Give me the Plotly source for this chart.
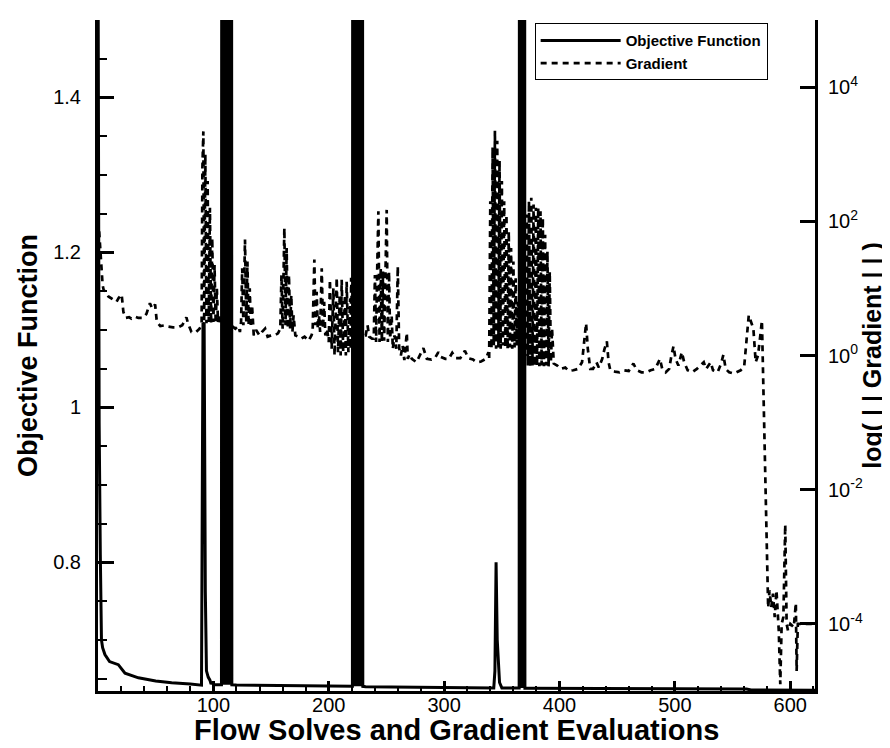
import plotly.graph_objects as go

# ---------------- data ----------------
obj_x = [0, 1, 2, 3, 4, 6, 10, 17.6, 23.4, 35, 50, 63.8, 80, 89.7,
         91, 92, 93, 94, 95.5, 97, 98, 99, 100, 103, 106,
         107, 107.5, 108, 108.5, 109, 109.5, 110, 110.5, 111, 111.5, 112, 112.5,
         113, 113.5, 114, 114.5, 115, 115.5, 116,
         120, 150, 180, 219,
         220.5, 221, 221.5, 222, 222.5, 223, 223.5, 224, 224.5, 225, 225.5, 226,
         226.5, 227, 227.5, 228, 228.5, 229, 229.5,
         232, 260, 300, 343, 344, 345, 346, 347, 348, 350, 364.5,
         365, 365.5, 366, 366.5, 367, 367.5, 368, 368.5, 369, 369.5, 370,
         372, 400, 450, 500, 562, 566, 621.4]
obj_v = [1.62, 0.98, 0.81, 0.70, 0.69, 0.681, 0.672, 0.668, 0.657, 0.651, 0.647, 0.6445, 0.643, 0.6415,
         1.109, 1.108, 0.763, 0.66, 0.652, 0.648, 0.643, 0.646, 0.642, 0.642, 0.642,
         0.642, 3.0, 0.642, 3.0, 0.642, 3.0, 0.642, 3.0, 0.642, 3.0, 0.642, 3.0,
         0.642, 3.0, 0.642, 3.0, 0.642, 3.0, 0.642,
         0.6418, 0.641, 0.6405, 0.640,
         0.640, 3.0, 0.640, 3.0, 0.640, 3.0, 0.640, 3.0, 0.640, 3.0, 0.640, 3.0,
         0.640, 3.0, 0.640, 3.0, 0.640, 3.0, 0.640,
         0.6395, 0.639, 0.6385, 0.638, 0.66, 0.80, 0.70, 0.665, 0.645, 0.638, 0.6378,
         0.6378, 3.0, 0.6378, 3.0, 0.6378, 3.0, 0.6378, 3.0, 0.6378, 3.0, 0.6377,
         0.6377, 0.6373, 0.637, 0.6368, 0.6366, 0.6352, 0.635]

grad_x = [1, 2, 3, 4, 5, 6, 9, 13, 16, 18, 20.5, 22, 24, 27, 29, 32, 35, 39, 42, 45, 47, 49.5,
          51, 54, 58, 61, 65, 69.6, 73, 76.6, 78, 81, 85, 88, 89.8,
          90.5, 91.3, 92, 93, 94, 95, 96, 97, 98, 99, 100, 101, 102, 103, 104, 105, 106,
          108, 110, 113, 116, 119, 121.6, 123,
          124, 125, 126, 127.4, 128.5, 129.5, 130.5, 131.5, 132.5, 133.5, 135,
          137, 140, 142, 144.8, 147, 150, 153, 156, 158,
          159, 160, 161.5, 162.5, 163.5, 164.5, 165.5, 166.5, 167.5, 168.5, 169.5, 171,
          173.6, 176, 179, 182.5, 185,
          186, 187.5, 188.5, 189.5, 190.5, 191.5, 192.5, 193.9, 195, 196, 197, 198.5,
          200, 201, 202.5, 204, 205, 206.9, 208, 209.5, 210.3, 211.2, 212.5, 214, 214.8,
          215.5, 217, 218.5, 219, 219.4, 220.5,
          222, 225, 228, 230, 232, 233.6, 235, 237.5,
          239, 240, 241, 242, 243, 244, 245, 246, 247, 248, 249, 250.2, 251.2, 252.2, 253.2,
          254.5, 255.5, 257, 258.5, 259.8, 261, 262.5, 264, 265.5, 267.6, 268.5, 270,
          272, 276, 279, 282, 285, 289, 292, 295, 297, 301, 304, 307, 310, 314, 318, 321,
          325, 328, 332, 336, 338.4,
          339, 340, 341, 342, 343, 344, 345, 346, 347, 348, 349, 350, 351, 352, 353, 354,
          355, 356, 357, 358, 359, 360, 361, 362, 363, 364, 365, 367, 369,
          370.5, 371.5, 372.5, 373.5, 374.5, 375.5, 376.5, 377.5, 378.5, 379.5, 380.5,
          381.5, 382.5, 383.5, 384.5, 385.5, 386.5, 387.5, 388.5, 389.5, 390.5, 391.5,
          392.5, 393.5, 395,
          398, 401, 405, 408, 412, 416, 419.5, 421.5, 423, 424.5, 425.5, 426.6, 429, 432,
          434, 437, 439, 441, 442.5, 444, 448, 452, 456, 460, 464, 467, 471, 475, 479, 483,
          487, 489, 492, 495, 497, 498.8, 500.5, 503, 506, 508, 511, 515, 519, 522, 525,
          527, 529, 531, 533, 537, 540, 542, 544, 547, 551, 554, 557, 560, 562, 564, 566,
          568, 570, 572, 574, 575.4, 580.8, 582, 583.5, 585, 586.5, 588, 590, 591.3,
          592.5, 594, 595.6, 596.8, 598, 600, 603, 604.8, 605.5, 606.5, 610, 621.4]
grad_log10 = [1.85, 1.55, 1.25, 1.05, 0.97, 0.96, 0.88, 0.83, 0.8, 0.86, 0.91, 0.65, 0.56, 0.57,
              0.55, 0.58, 0.56, 0.56, 0.62, 0.78, 0.7, 0.76,
              0.5, 0.44, 0.45, 0.43, 0.42, 0.42, 0.45, 0.57, 0.48, 0.35, 0.35, 0.4, 0.46,
              2.8, 3.34, 0.5, 3.0, 0.48, 2.6, 0.5, 2.2, 0.48, 1.75, 0.5, 1.35, 0.48, 1.0, 0.5,
              0.62, 0.45,
              0.47, 0.45, 0.46, 0.44, 0.4, 0.44, 0.35,
              0.5, 1.3, 0.45, 1.73, 0.5, 1.4, 0.45, 1.0, 0.42, 0.75, 0.3,
              0.38, 0.3, 0.35, 0.4, 0.28, 0.3, 0.3, 0.33, 0.4,
              1.2, 0.4, 1.9, 0.45, 1.6, 0.4, 1.2, 0.4, 0.9, 0.35, 0.6, 0.3,
              0.28, 0.25, 0.28, 0.22, 0.3,
              0.35, 1.43, 0.45, 0.95, 0.4, 0.6, 0.35, 1.3, 0.4, 0.8, 0.3, 0.4,
              0.2, 1.13, 0.1, 1.0, 0.0, 1.16, 0.05, 0.9, 0.0, 1.13, 0.05, 0.9, 0.0,
              1.1, 0.05, 0.85, 0.1, 1.16, 0.3,
              0.35, 0.32, 0.3, 0.3, 0.3, 0.45, 0.28, 0.25,
              0.25, 1.2, 0.2, 1.3, 2.15, 0.2, 1.3, 0.2, 1.25, 0.22, 1.3, 2.17, 0.2, 1.25, 0.25,
              0.6, 0.1, 0.3, 0.1, 1.33, 0.11, 0.0, 0.15, -0.07, 0.34, -0.05, 0.02,
              -0.05, -0.1, 0.0, 0.11, -0.05, -0.06, -0.04, 0.05, -0.02, -0.05, -0.05, 0.04,
              -0.04, -0.04, 0.07, -0.04, -0.06, -0.1, -0.09, -0.05, 0.05,
              -0.05, 2.3, 0.1, 3.1, 0.15, 3.35, 0.1, 3.2, 0.12, 2.9, 0.1, 2.6, 0.15, 2.3, 0.12,
              2.1, 0.1, 1.85, 0.12, 1.6, 0.1, 1.4, 0.12, 1.15, 0.15, 0.8, 0.2, 0.1, 0.05,
              0.0, 2.1, -0.15, 2.3, -0.16, 2.35, -0.15, 2.25, -0.16, 2.2, -0.15,
              2.2, -0.16, 2.15, -0.15, 2.05, -0.16, 1.8, -0.15, 1.55, -0.16, 1.25,
              -0.1, 0.4, -0.12,
              -0.15, -0.2, -0.18, -0.23, -0.22, -0.2, -0.1, 0.2, 0.48, 0.1, -0.05, -0.2, -0.2,
              -0.1, -0.18, -0.05, 0.1, 0.21, -0.1, -0.22, -0.24, -0.25, -0.22, -0.23, -0.12,
              -0.22, -0.25, -0.25, -0.22, -0.2, -0.05, -0.2, -0.25, -0.2, 0.0, 0.14, -0.05,
              -0.15, 0.05, -0.1, -0.22, -0.25, -0.2, -0.15, -0.1, -0.2, -0.15, -0.1, -0.22,
              -0.25, -0.12, 0.01, -0.2, -0.25, -0.27, -0.25, -0.22, -0.17, 0.2, 0.6, 0.5,
              0.4, -0.1, 0.0, 0.3, 0.52, -3.76, -3.5, -3.75, -3.55, -3.9, -3.5, -4.1, -4.9,
              -4.0, -3.9, -2.52, -4.0, -4.1, -4.0, -4.05, -3.69, -4.7, -4.0, -4.0, -4.0]

grad_vals = [10 ** v for v in grad_log10]

x_tick_vals = [100, 200, 300, 400, 500, 600]
y2_tick_vals = [1e-4, 1e-2, 1, 1e2, 1e4]
y2_tick_text = ["10<sup>-4</sup>", "10<sup>-2</sup>", "10<sup>0</sup>", "10<sup>2</sup>", "10<sup>4</sup>"]

x_title = "Flow Solves and Gradient Evaluations"

# ---------------- figure ----------------
FONT = "Liberation Sans, Arial, Helvetica, sans-serif"

fig = go.Figure()
fig.add_trace(go.Scatter(x=obj_x, y=obj_v, mode="lines", name="<b>Objective Function</b>",
                         line=dict(color="black", width=3), yaxis="y"))
fig.add_trace(go.Scatter(x=grad_x, y=grad_vals, mode="lines", name="<b>Gradient</b>",
                         line=dict(color="black", width=2.7, dash="6px,5px"), yaxis="y2"))

fig.update_layout(
    width=890, height=748,
    margin=dict(l=90, r=83, t=12, b=65),
    paper_bgcolor="white", plot_bgcolor="white",
    font=dict(family=FONT, color="black", size=20),
    showlegend=True,
    legend=dict(x=0.609, y=0.995, xanchor="left", yanchor="top",
                bgcolor="white", bordercolor="black", borderwidth=1,
                font=dict(family=FONT, size=15, color="black"),
                itemwidth=80, tracegroupgap=0),
    xaxis=dict(range=[0, 621.4], tickmode="array", tickvals=x_tick_vals,
               ticks="inside", ticklen=10, tickwidth=2.5, tickcolor="black",
               minor=dict(ticks="inside", dtick=20, tick0=0, ticklen=5, tickwidth=2, tickcolor="black"),
               showline=True, linewidth=3, linecolor="black",
               showgrid=False, zeroline=False,
               tickfont=dict(size=20), ticklabelstandoff=-6),
    yaxis=dict(range=[0.634, 1.5], dtick=0.2, tick0=0,
               ticks="inside", ticklen=16, tickwidth=3, tickcolor="black",
               minor=dict(ticks="inside", dtick=0.05, tick0=0, ticklen=9, tickwidth=2, tickcolor="black"),
               showline=True, linewidth=3, linecolor="black",
               showgrid=False, zeroline=False,
               tickfont=dict(size=20), ticklabelstandoff=10,
               title=dict(text="<b>Objective Function</b>", font=dict(size=27), standoff=8)),
    yaxis2=dict(overlaying="y", side="right", type="log", range=[-5, 5],
                tickmode="array", tickvals=y2_tick_vals, ticktext=y2_tick_text,
                ticks="inside", ticklen=15, tickwidth=3, tickcolor="black",
                showline=True, linewidth=3, linecolor="black",
                showgrid=False, zeroline=False,
                tickfont=dict(size=20), ticklabelstandoff=6,
                title=dict(text="<b>log( | | Gradient | | )</b>", font=dict(size=25), standoff=0)),
    annotations=[dict(text="<b>" + x_title + "</b>", xref="paper", yref="paper",
                      x=0.5, y=0, xanchor="center", yanchor="top", yshift=-21,
                      showarrow=False, font=dict(family=FONT, size=29, color="black"))],
)

fig.write_html("out.html")
